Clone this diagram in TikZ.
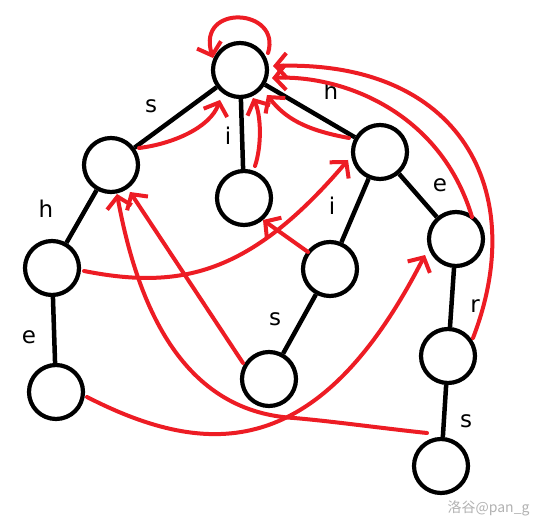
\documentclass[tikz,border=0pt]{standalone}
\usepackage{fontspec}
\setmainfont{DejaVu Sans}
\newfontfamily\cjkfont{Noto Sans CJK SC}
\usetikzlibrary{arrows.meta,calc}
\definecolor{pred}{RGB}{237,28,36}
\begin{document}
\begin{tikzpicture}[x=1pt,y=-1pt,
  st/.style={circle,draw,line width=4.2pt,minimum size=54pt,inner sep=0pt,fill=white},
  edge/.style={line width=4.5pt},
  fail/.style={draw=pred,line width=4pt,line cap=round,-{Straight Barb[length=11pt,width=25pt]}},
  lab/.style={anchor=base,font=\fontsize{23}{23}\selectfont}]
\useasboundingbox (0,0) rectangle (545,526);
\fill[white] (0,0) rectangle (545,526);
% states
\node[st] (root) at (240,70) {};
\node[st] (s) at (111,165) {};
\node[st] (i) at (244,198) {};
\node[st] (h) at (380,152) {};
\node[st] (hL) at (52,268) {};
\node[st] (eL) at (56,392) {};
\node[st] (iR) at (330,269) {};
\node[st] (sM) at (269,379) {};
\node[st] (eR) at (456,239) {};
\node[st] (r) at (448,356) {};
\node[st] (sB) at (441,466) {};
% trie edges
\draw[edge] (root) -- (s);
\draw[edge] (root) -- (i);
\draw[edge] (root) -- (h);
\draw[edge] (s) -- (hL);
\draw[edge] (hL) -- (eL);
\draw[edge] (h) -- (iR);
\draw[edge] (iR) -- (sM);
\draw[edge] (h) -- (eR);
\draw[edge] (eR) -- (r);
\draw[edge] (r) -- (sB);
% edge labels
\node[lab] (ls) at (151,113) {s};
\node[lab] (li) at (228,145) {i};
\node[lab] (lh) at (331,100) {h};
\node[lab] (lhL) at (46,218) {h};
\node[lab] (leL) at (29,343) {e};
\node[lab] (liR) at (332,215) {i};
\node[lab] (lsM) at (275,325) {s};
\node[lab] (leR) at (440,192) {e};
\node[lab] (lr) at (475,312) {r};
\node[lab] (lsB) at (466,427) {s};
% fail pointers
\draw[fail] ($(root)+(28,-17)$) .. controls (282,8) and (196,3) .. ($(root)+(-27,-12)$);
\draw[fail] ($(s)+(28,-17)$) .. controls (172,144) and (210,128) .. ($(root)+(-20,30)$);
\draw[fail] ($(i)+(11,-32)$) .. controls (262,145) and (261,115) .. ($(root)+(13,28)$);
\draw[fail] ($(h)+(-31,-14)$) .. controls (305,130) and (285,118) .. ($(root)+(27,25)$);
\draw[fail] ($(hL)+(32,3)$) .. controls (180,290) and (250,275) .. ($(h)+(-32,8)$);
\draw[fail] ($(eL)+(31,5)$) .. controls (210,460) and (320,460) .. ($(eR)+(-31,16)$);
\draw[fail] ($(iR)+(-22,-17)$) -- ($(i)+(19,22)$);
\draw[fail] ($(sM)+(-26,-16)$) -- ($(s)+(19,27)$);
\draw[fail] ($(sB)+(-14,-33)$) .. controls (380,428) and (330,421) .. (294,418) .. controls (190,412) and (140,320) .. ($(s)+(6,29)$);
\draw[fail] ($(eR)+(16,-22)$) .. controls (440,110) and (340,75) .. ($(root)+(32,8)$);
\draw[fail] ($(r)+(25,-18)$) .. controls (530,190) and (460,60) .. ($(root)+(33,-4)$);
% watermark
\node[font=\cjkfont\fontsize{14}{14}\selectfont,text=black!30,anchor=base east] (wm) at (533,512) {洛谷@pan\_g};
\end{tikzpicture}
\end{document}
